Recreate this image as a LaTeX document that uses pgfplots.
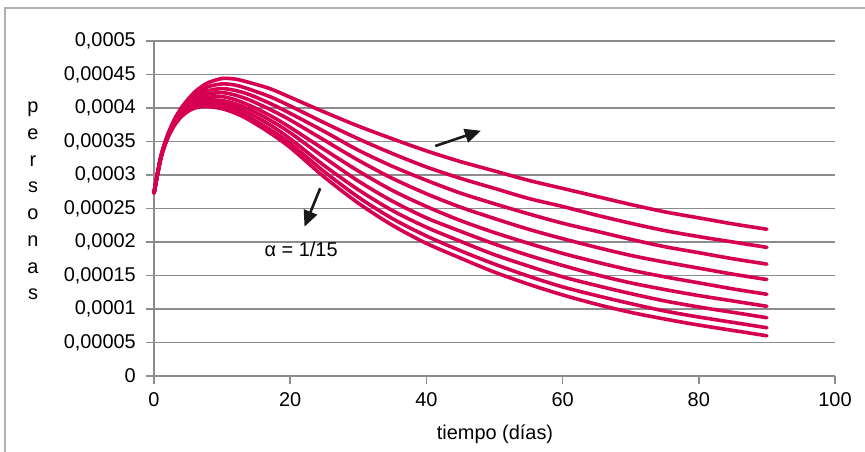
\documentclass[border=0pt]{standalone}
\usepackage{pgfplots}
\pgfplotsset{compat=1.18}
\usepackage{pgfplotstable}
\usepackage{fontspec}
\setmainfont{Liberation Sans}
\usetikzlibrary{arrows.meta}
\definecolor{curve}{RGB}{214,0,82}
\definecolor{gridc}{RGB}{140,140,140}
\definecolor{framec}{RGB}{176,176,176}
\newcommand\fs{\fontsize{20}{26.8}\selectfont}

% values in units of 1e-6 personas
\pgfplotstableread{
t   c0  c1  c2  c3  c4  c5  c6  c7  c8
0   273 273 273 273 273 273 273 273 273
1   325 325 325 326 326 326 326 327 327
2   355 355 356 356 357 358 358 359 360
3   374 375 376 377 378 379 380 381 383
4   387 388 389 391 392 394 396 398 400
5   395 396 398 400 402 405 407 410 413
6   400 402 404 407 409 413 416 420 424
7   402 404 407 410 414 418 422 427 432
8   402 405 408 412 416 421 426 432 438
10  399 403 407 411 417 423 429 436 444
12  392 396 401 406 412 419 426 434 443
14  382 386 392 398 404 412 420 428 438
17  363 368 375 382 389 398 407 417 429
20  341 347 354 363 371 382 392 403 416
25  297 305 314 326 338 352 365 378 394
30  258 267 278 291 306 322 337 354 373
35  225 235 247 261 277 295 313 332 354
40  198 209 222 236 253 272 292 312 336
45  176 187 201 216 232 252 273 295 320
50  155 167 181 197 214 235 257 280 306
55  137 149 164 180 198 219 242 265 292
60  121 133 148 165 183 205 228 253 280
65  107 120 135 151 170 192 216 240 268
70  95  108 123 139 158 180 204 228 256
75  85  97  112 129 148 170 193 217 245
80  76  88  103 120 139 161 184 208 236
85  68  80  95  112 130 152 175 200 227
90  60  72  87  104 122 144 167 192 219
}\datatable

\begin{document}
\begin{tikzpicture}[x=1bp,y=1bp]
\useasboundingbox (0,0) rectangle (865,452);
\draw[framec, line width=1.5bp] (5,-5) -- (5,444) -- (870,444);
\begin{axis}[
  at={(154bp,76bp)}, anchor=south west,
  scale only axis, width=681bp, height=335bp,
  xmin=0, xmax=100, ymin=0, ymax=500,
  axis x line*=bottom, axis y line*=left,
  axis line style={gridc, line width=1.5bp},
  tick align=outside, major tick length=8bp,
  tick style={gridc, line width=1.5bp},
  xtick={0,20,40,60,80,100},
  xticklabels={0,20,40,60,80,100},
  ytick={0,50,100,150,200,250,300,350,400,450,500},
  yticklabels={0,{0,00005},{0,0001},{0,00015},{0,0002},{0,00025},{0,0003},{0,00035},{0,0004},{0,00045},{0,0005}},
  ymajorgrids, grid style={gridc, line width=1.5bp},
  ticklabel style={font=\fs, inner sep=0pt},
  xticklabel style={anchor=north, yshift=-8bp},
  yticklabel style={anchor=east, xshift=-10bp},
  clip=false,
]
\foreach \c in {c0,c1,c2,c3,c4,c5,c6,c7,c8}{
  \addplot[curve, line width=3.6bp, line cap=round, line join=round, smooth, tension=0.5] table[x=t, y=\c] {\datatable};
}
\draw[-{Triangle[length=16bp,width=14bp]}, line width=2.6bp, black!90] (axis cs:41.3,343.3) -- (axis cs:48.0,366.1);
\draw[-{Triangle[length=16bp,width=14bp]}, line width=2.6bp, black!90] (axis cs:24.4,280.1) -- (axis cs:22.1,222.8);
\node[font=\fs, anchor=base] at (axis cs:21.6,178) {α = 1/15};
\end{axis}
\node[font=\fs, align=center] at (33,251) {p\\e\\r\\s\\o\\n\\a\\s};
\node[font=\fs, anchor=base] at (495,12) {tiempo (días)};
\end{tikzpicture}
\end{document}
